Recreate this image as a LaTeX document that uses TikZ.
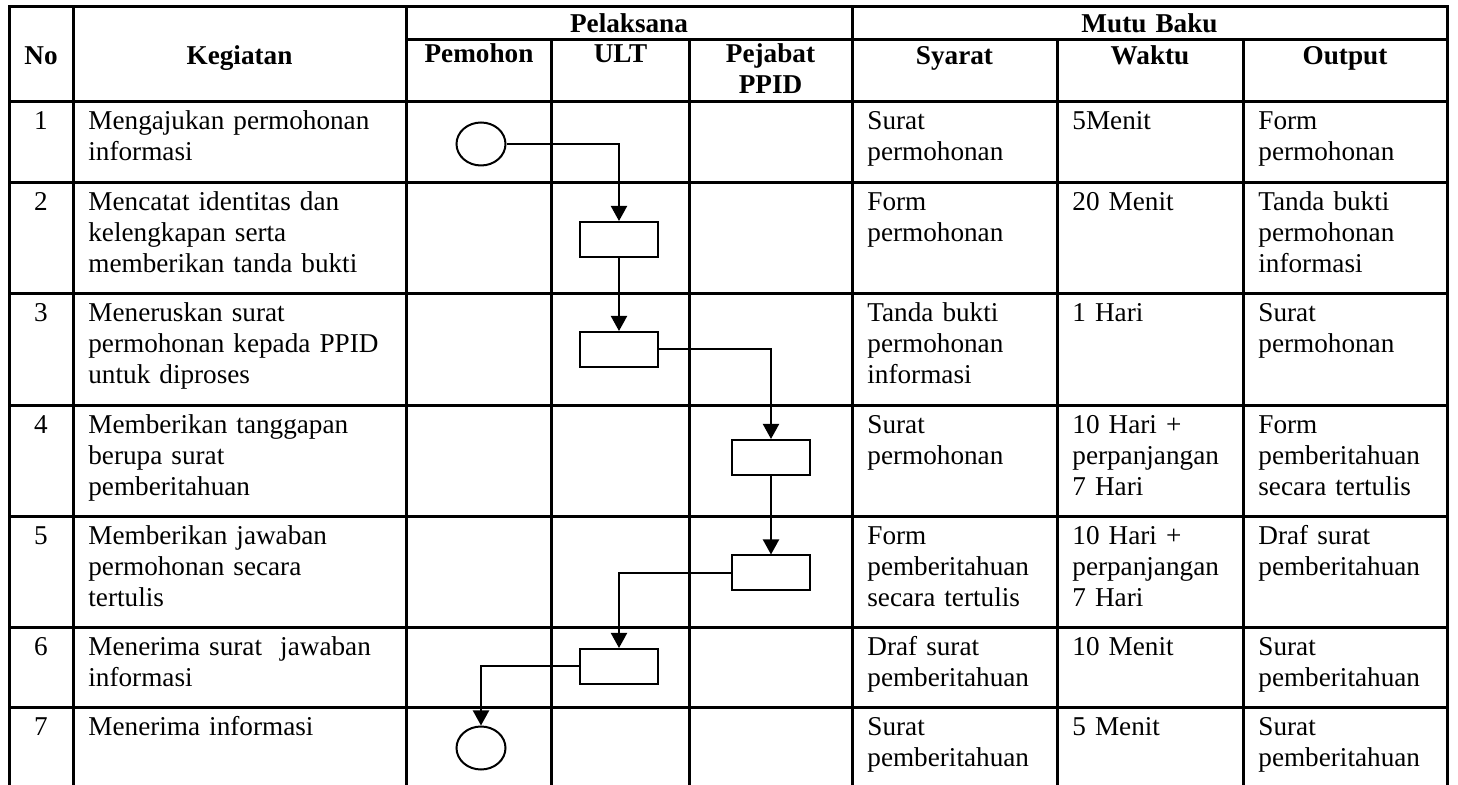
\documentclass[tikz,border=0pt]{standalone}
\usepackage{fontspec}
\setmainfont{Liberation Serif}
\usetikzlibrary{shapes.geometric,arrows.meta}

\begin{document}
\begin{tikzpicture}[x=0.5pt,y=-0.5pt,
    font=\fontsize{13.6}{15.5}\selectfont,
    grid/.style={line width=1.5pt, line cap=rect},
    cell/.style={anchor=base west, inner sep=0pt, text width=165pt, align=left},
    head/.style={anchor=base, inner sep=0pt, text width=90pt, align=center,
        font=\fontsize{13.6}{15.5}\selectfont\bfseries},
    act/.style={draw, line width=1pt, rectangle, minimum width=39pt,
        minimum height=17.5pt, inner sep=0pt},
    term/.style={draw, line width=1pt, ellipse, minimum width=24.5pt,
        minimum height=21.5pt, inner sep=0pt},
    flow/.style={line width=1pt, -{Triangle[width=8pt,length=7.5pt]}}
]

    \useasboundingbox (0,0) rectangle (1458,785);

    % table rules
    \draw[grid] (9,7) -- (1447,7);
    \draw[grid] (406,40) -- (1447,40);
    \foreach \y in {102,182.5,294,406,517,628,708}
        \draw[grid] (9,\y) -- (1447,\y);
    \foreach \x in {9,73,406,852,1447}
        \draw[grid] (\x,7) -- (\x,785);
    \foreach \x in {551.7,689,1057,1243}
        \draw[grid] (\x,40) -- (\x,785);

    % header
    \node[head] (hno) at (41,65) {No};
    \node[head] (hkeg) at (239.5,65) {Kegiatan};
    \node[head, text width=200pt] (hpel) at (629,33) {Pelaksana};
    \node[head] (hpem) at (479,63) {Pemohon};
    \node[head] (hult) at (620.5,63) {ULT};
    \node[head] (hppid) at (770.5,63) {Pejabat\\PPID};
    \node[head, text width=200pt] (hmutu) at (1149.5,33) {Mutu Baku};
    \node[head] (hsy) at (954.5,65) {Syarat};
    \node[head] (hwk) at (1150,65) {Waktu};
    \node[head] (hout) at (1345,65) {Output};

    % rows: number / top / kegiatan / syarat / waktu / output
    \foreach \i/\top/\keg/\sy/\wk/\out in {
        1/102/{Mengajukan permohonan\\informasi}/{Surat\\permohonan}/{5Menit}/{Form\\permohonan},
        2/182.5/{Mencatat identitas dan\\kelengkapan serta\\memberikan tanda bukti}/{Form\\permohonan}/{20 Menit}/{Tanda bukti\\permohonan\\informasi},
        3/294/{Meneruskan surat\\permohonan kepada PPID\\untuk diproses}/{Tanda bukti\\permohonan\\informasi}/{1 Hari}/{Surat\\permohonan},
        4/406/{Memberikan tanggapan\\berupa surat\\pemberitahuan}/{Surat\\permohonan}/{10 Hari +\\perpanjangan\\7 Hari}/{Form\\pemberitahuan\\secara tertulis},
        5/517/{Memberikan jawaban\\permohonan secara\\tertulis}/{Form\\pemberitahuan\\secara tertulis}/{10 Hari +\\perpanjangan\\7 Hari}/{Draf surat\\pemberitahuan},
        6/628/{Menerima surat\ \ jawaban\\informasi}/{Draf surat\\pemberitahuan}/{10 Menit}/{Surat\\pemberitahuan},
        7/708/{Menerima informasi}/{Surat\\pemberitahuan}/{5 Menit}/{Surat\\pemberitahuan}}{
        \node[anchor=base, inner sep=0pt] (no\i) at (41,\top+28) {\i};
        \node[cell] (keg\i) at (88,\top+28) {\keg};
        \node[cell] (sy\i) at (867,\top+28) {\sy};
        \node[cell] (wk\i) at (1072,\top+28) {\wk};
        \node[cell] (out\i) at (1258,\top+28) {\out};
    }

    % flow symbols
    \node[term] (mulai) at (481,144) {};
    \node[act] (catat) at (619,239.5) {};
    \node[act] (terus) at (619,349.5) {};
    \node[act] (tanggap) at (771,457.5) {};
    \node[act] (jawab) at (771,573) {};
    \node[act] (terima) at (619,666.5) {};
    \node[term] (selesai) at (481,748) {};

    % connectors
    \draw[flow] (mulai.east) -| (catat.north);
    \draw[flow] (catat) -- (terus);
    \draw[flow] (terus.east) -| (tanggap.north);
    \draw[flow] (tanggap) -- (jawab);
    \draw[flow] (jawab.west) -| (terima.north);
    \draw[flow] (terima.west) -| (selesai.north);

\end{tikzpicture}
\end{document}
